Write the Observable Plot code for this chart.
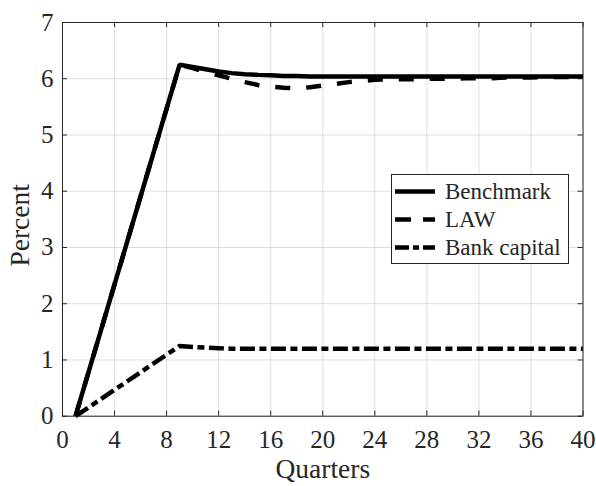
<!DOCTYPE html>
<html>
<head>
<meta charset="utf-8">
<script src="https://cdn.jsdelivr.net/npm/d3@7"></script>
<script src="https://cdn.jsdelivr.net/npm/@observablehq/plot@0.6"></script>
<style>
  html, body { margin: 0; padding: 0; background: #fff; }
  #wrap { position: relative; width: 596px; height: 486px; }
  #legend { position: absolute; left: 391px; top: 174px; }
</style>
</head>
<body>
<div id="wrap"></div>
<script>
// ---- data ----
const quarters = [1, 9, 10, 11, 12, 13, 14, 15, 16, 17, 18, 19, 20, 21, 22, 23, 24, 25, 26, 27, 28, 29, 30, 31, 32, 33, 34, 35, 36, 37, 38, 39, 40];
const benchmark = [0, 6.25, 6.21, 6.17, 6.13, 6.10, 6.08, 6.07, 6.06, 6.05, 6.05,
  6.04, 6.04, 6.04, 6.04, 6.04, 6.04, 6.04, 6.04, 6.04, 6.04, 6.04,
  6.04, 6.04, 6.04, 6.04, 6.04, 6.04, 6.04, 6.04, 6.04, 6.04, 6.04];
const law = [0, 6.25, 6.19, 6.12, 6.06, 6.00, 5.94, 5.89, 5.86, 5.84, 5.83,
  5.85, 5.88, 5.91, 5.94, 5.96, 5.98, 5.99, 5.99, 5.99, 6.00,
  6.00, 6.00, 6.01, 6.01, 6.01, 6.02, 6.02, 6.02, 6.03, 6.03, 6.03, 6.03];
const bankCapital = [0, 1.25, 1.23, 1.22, 1.21, 1.20, 1.20, 1.20, 1.20, 1.20, 1.20,
  1.20, 1.20, 1.20, 1.20, 1.20, 1.20, 1.20, 1.20, 1.20, 1.20,
  1.20, 1.20, 1.20, 1.20, 1.20, 1.20, 1.20, 1.20, 1.20, 1.20, 1.20, 1.20];
const seriesNames = ["Benchmark", "LAW", "Bank capital"];
const xTicks = [0, 4, 8, 12, 16, 20, 24, 28, 32, 36, 40];
const yTicks = [0, 1, 2, 3, 4, 5, 6, 7];
const xLabel = "Quarters";
const yLabel = "Percent";

// ---- styles ----
const FONT = "'Liberation Serif', 'Times New Roman', serif";
const INK = "#262626";
const dashes = { "Benchmark": null, "LAW": "15,16", "Bank capital": "15,4.5,7,4.5" };
const legendDashes = { "Benchmark": null, "LAW": "16,12", "Bank capital": "14,4,6,4" };
const LW = 4.5;

const seriesValues = [benchmark, law, bankCapital];
const rows = [];
seriesNames.forEach((name, s) => {
  quarters.forEach((q, i) => rows.push({ series: name, q, v: seriesValues[s][i] }));
});

const xDomain = [0, 40], yDomain = [0, 7];
const tickLenX = 0.38;   // in x units (~5px)
const tickLenY = 0.09;   // in y units (~5px)

const plot = Plot.plot({
  width: 596,
  height: 486,
  marginLeft: 62,
  marginRight: 13.5,
  marginTop: 22,
  marginBottom: 70.3,
  x: { domain: xDomain },
  y: { domain: yDomain },
  style: { fontFamily: FONT, fontSize: "25px", color: INK, background: "#fff" },
  marks: [
    Plot.gridX(xTicks, { stroke: "#000", strokeOpacity: 0.13, strokeWidth: 1 }),
    Plot.gridY(yTicks, { stroke: "#000", strokeOpacity: 0.13, strokeWidth: 1 }),
    // inward tick marks on all four sides
    Plot.ruleX(xTicks, { x: d => d, y1: yDomain[0], y2: yDomain[0] + tickLenY, stroke: INK }),
    Plot.ruleX(xTicks, { x: d => d, y1: yDomain[1], y2: yDomain[1] - tickLenY, stroke: INK }),
    Plot.ruleY(yTicks, { y: d => d, x1: xDomain[0], x2: xDomain[0] + tickLenX, stroke: INK }),
    Plot.ruleY(yTicks, { y: d => d, x1: xDomain[1], x2: xDomain[1] - tickLenX, stroke: INK }),
    ...seriesNames.map(name => Plot.line(rows.filter(r => r.series === name), {
      x: "q", y: "v", stroke: "#000", strokeWidth: LW,
      strokeDasharray: dashes[name], strokeLinecap: "butt", strokeLinejoin: "miter"
    })),
    Plot.frame({ stroke: INK, strokeWidth: 1 }),
    Plot.axisX(xTicks, { anchor: "bottom", tickSize: 0, tickPadding: 14.5, label: null, fill: INK, tickFormat: d => String(d) }),
    Plot.axisY(yTicks, { anchor: "left", tickSize: 0, tickPadding: 9, label: null, fill: INK, tickFormat: d => String(d) }),
    Plot.text([xLabel], { text: d => d, frameAnchor: "bottom", textAnchor: "middle", lineAnchor: "middle", dy: 53, fontSize: 27.5, fill: INK }),
    Plot.text([yLabel], { text: d => d, frameAnchor: "left", textAnchor: "middle", lineAnchor: "middle", dx: -42, dy: 6, rotate: -90, fontSize: 27.5, fill: INK })
  ]
});

const wrap = document.getElementById("wrap");
wrap.appendChild(plot);

// ---- legend (overlay, built from the series list) ----
const lgW = 178, lgH = 90;
const legend = d3.create("svg")
  .attr("id", "legend")
  .attr("width", lgW).attr("height", lgH)
  .style("font-family", FONT);
legend.append("rect")
  .attr("x", 0.5).attr("y", 0.5).attr("width", lgW - 1).attr("height", lgH - 1)
  .attr("fill", "#fff").attr("stroke", INK).attr("stroke-width", 1);
const rowY = [17.5, 45.5, 73.5];
seriesNames.forEach((name, i) => {
  legend.append("line")
    .attr("x1", 4).attr("x2", 44).attr("y1", rowY[i]).attr("y2", rowY[i])
    .attr("stroke", "#000").attr("stroke-width", LW)
    .attr("stroke-dasharray", legendDashes[name]);
  legend.append("text")
    .attr("x", 54).attr("y", rowY[i]).attr("dy", "0.34em")
    .attr("font-size", 23).attr("fill", INK)
    .text(name);
});
wrap.appendChild(legend.node());
</script>
</body>
</html>
